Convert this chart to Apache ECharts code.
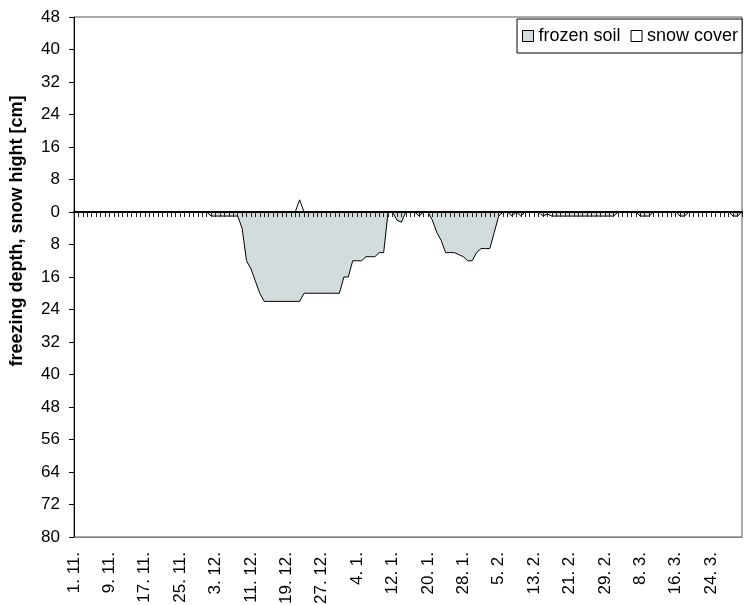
<!DOCTYPE html>
<html>
<head>
<meta charset="utf-8">
<script src="https://cdn.jsdelivr.net/npm/echarts@6/dist/echarts.min.js"></script>
<style>
  html, body { margin: 0; padding: 0; background: #ffffff; }
  #chart { width: 745px; height: 605px; }
</style>
</head>
<body>
<div id="chart"></div>
<script>
// Winter season, 1 November to 31 March (leap year February)
const monthNumbers = [11, 12, 1, 2, 3];
const monthLengths = [30, 31, 31, 29, 31];

// Daily labels "d. m."
const days = [];
monthNumbers.forEach(function (m, k) {
  for (let d = 1; d <= monthLengths[k]; d++) days.push(d + '. ' + m + '.');
});

// Freezing depth [cm] (negative = below ground), one value per day
const frozenSoil = [
  0, 0, 0, 0, 0, 0, 0, 0, 0, 0,
  0, 0, 0, 0, 0, 0, 0, 0, 0, 0,
  0, 0, 0, 0, 0, 0, 0, 0, 0, 0,
  0, -1, -1, -1, -1, -1, -1, -1, -4, -12,
  -14, -17, -20, -22, -22, -22, -22, -22, -22, -22,
  -22, -22, -20, -20, -20, -20, -20, -20, -20, -20,
  -20, -16, -16, -12, -12, -12, -11, -11, -11, -10,
  -10, 0, 0, -2, -2.5, 0, 0, 0, -1, 0,
  0, -2, -5, -7, -10, -10, -10, -10.5, -11, -12,
  -12, -10, -9, -9, -9, -5, -1, 0, 0, -1,
  0, -1, 0, 0, 0, 0, -1, -0.5, -1, -1,
  -1, -1, -1, -1, -1, -1, -1, -1, -1, -1,
  -1, -1, -1, 0, 0, 0, 0, 0, -1, -1,
  -1, 0, 0, 0, 0, 0, 0, -1, -1, 0,
  0, 0, 0, 0, 0, 0, 0, 0, 0, -1,
  -1, 0
];

// Snow height [cm], one value per day
const snowCover = [
  0, 0, 0, 0, 0, 0, 0, 0, 0, 0,
  0, 0, 0, 0, 0, 0, 0, 0, 0, 0,
  0, 0, 0, 0, 0, 0, 0, 0, 0, 0,
  0, 0, 0, 0, 0, 0, 0, 0, 0, 0,
  0, 0, 0, 0, 0, 0, 0, 0, 0, 0,
  0, 3, 0, 0, 0, 0, 0, 0, 0, 0,
  0, 0, 0, 0, 0, 0, 0, 0, 0, 0,
  0, 0, 0, 0, 0, 0, 0, 0, 0, 0,
  0, 0, 0, 0, 0, 0, 0, 0, 0, 0,
  0, 0, 0, 0, 0, 0, 0, 0, 0, 0,
  0, 0, 0, 0, 0, 0, 0, 0, 0, 0,
  0, 0, 0, 0, 0, 0, 0, 0, 0, 0,
  0, 0, 0, 0, 0, 0, 0, 0, 0, 0,
  0, 0, 0, 0, 0, 0, 0, 0, 0, 0,
  0, 0, 0, 0, 0, 0, 0, 0, 0, 0,
  0, 0
];

const seriesNames = ['frozen soil', 'snow cover'];
const yTitle = 'freezing depth, snow hight [cm]';
const yMin = -80, yMax = 48, yStep = 8;

const FONT = "'Liberation Sans', Arial, sans-serif";
const SOIL_FILL = '#d3dcdc';

const chart = echarts.init(document.getElementById('chart'), null, { renderer: 'canvas' });

chart.setOption({
  animation: false,
  backgroundColor: '#ffffff',
  textStyle: { fontFamily: FONT, color: '#000' },
  grid: {
    left: 74, right: 3, top: 17, bottom: 68,
    containLabel: false,
    outerBoundsMode: 'none',
    show: true,
    borderColor: '#555',
    borderWidth: 1,
    backgroundColor: 'transparent'
  },
  // vertical axis title, reading bottom to top
  graphic: [{
    type: 'text',
    x: 17,
    y: 231,
    rotation: Math.PI / 2,
    silent: true,
    style: {
      text: yTitle,
      font: "bold 18px 'Liberation Sans', Arial, sans-serif",
      fill: '#000',
      align: 'center',
      verticalAlign: 'middle'
    }
  }],
  legend: {
    left: 517, top: 19,
    orient: 'horizontal',
    padding: [8, 4, 8, 5],
    itemGap: 10,
    itemWidth: 11, itemHeight: 11,
    icon: 'rect',
    backgroundColor: '#fff',
    borderColor: '#000',
    borderWidth: 1,
    textStyle: { fontFamily: FONT, fontSize: 18, color: '#000' },
    selectedMode: false,
    data: [
      { name: seriesNames[0], icon: 'rect', itemStyle: { color: SOIL_FILL, borderColor: '#000', borderWidth: 1 } },
      { name: seriesNames[1], icon: 'rect', itemStyle: { color: '#fff', borderColor: '#000', borderWidth: 1 } }
    ]
  },
  xAxis: [
    {
      // bottom axis carrying the date labels
      type: 'category',
      data: days,
      boundaryGap: false,
      position: 'bottom',
      axisLine: { show: true, onZero: false, lineStyle: { color: '#808080', width: 1 } },
      axisTick: { show: false },
      axisLabel: {
        interval: 7,
        rotate: 90,
        margin: 15,
        fontSize: 17,
        fontFamily: FONT,
        color: '#000'
      },
      splitLine: { show: false }
    },
    {
      // axis crossing at zero with daily ticks
      type: 'category',
      data: days,
      boundaryGap: false,
      position: 'bottom',
      z: 5,
      axisLine: { show: true, onZero: true, lineStyle: { color: '#000', width: 2 } },
      axisTick: { show: true, interval: 0, length: 5, lineStyle: { color: '#222', width: 1 } },
      axisLabel: { show: false },
      splitLine: { show: false }
    }
  ],
  yAxis: {
    type: 'value',
    min: yMin, max: yMax, interval: yStep,
    position: 'left',
    axisLine: { show: true, lineStyle: { color: '#000', width: 1 } },
    axisTick: { show: true, length: 5, lineStyle: { color: '#000', width: 1 } },
    axisLabel: {
      margin: 14,
      fontSize: 17,
      fontFamily: FONT,
      color: '#000',
      formatter: function (v) { return String(Math.abs(v)); }
    },
    splitLine: { show: false }
  },
  series: [
    {
      name: seriesNames[0],
      type: 'line',
      xAxisIndex: 0,
      data: frozenSoil,
      symbol: 'none',
      smooth: false,
      z: 2,
      itemStyle: { color: SOIL_FILL },
      lineStyle: { color: '#000', width: 1 },
      areaStyle: { color: SOIL_FILL, opacity: 1, origin: 0 }
    },
    {
      name: seriesNames[1],
      type: 'line',
      xAxisIndex: 0,
      data: snowCover,
      symbol: 'none',
      smooth: false,
      z: 3,
      itemStyle: { color: '#fff' },
      lineStyle: { color: '#000', width: 1 },
      areaStyle: { color: '#fff', opacity: 1, origin: 0 }
    }
  ]
});
</script>
</body>
</html>
